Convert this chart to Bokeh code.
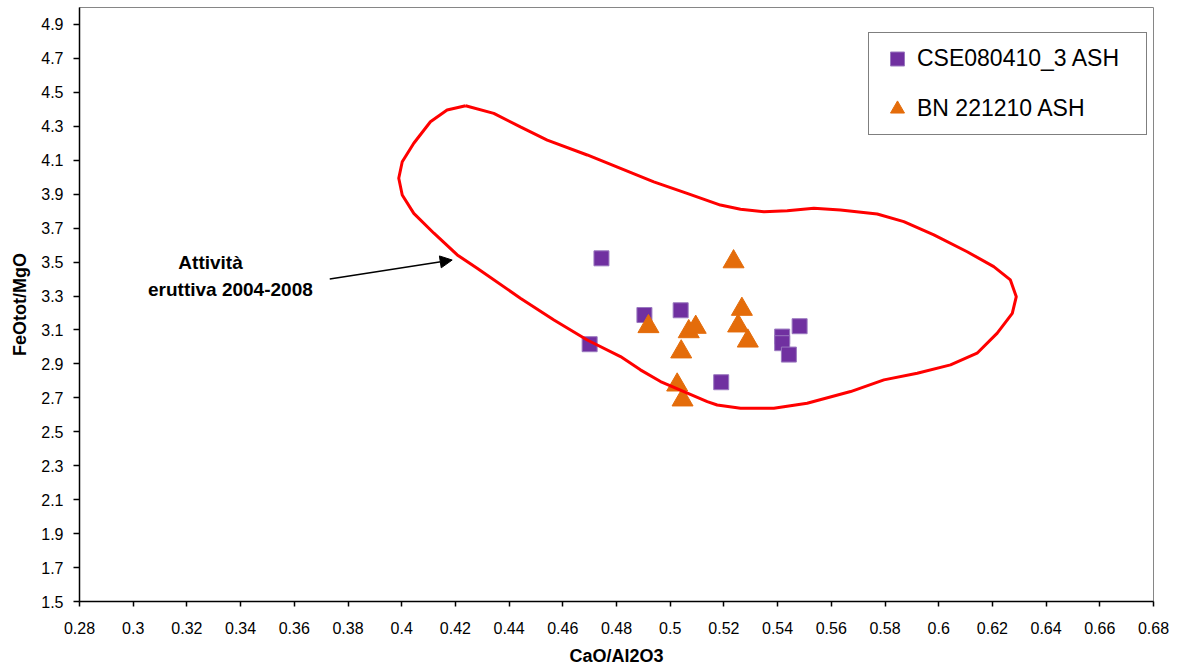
from bokeh.plotting import figure
from bokeh.models import (Range1d, FixedTicker, NumeralTickFormatter, Legend, LegendItem,
                          Arrow, NormalHead, Label)
from bokeh.embed import file_html
from bokeh.resources import INLINE

# ---- data ----
cse_x = [0.4744, 0.4904, 0.5039, 0.4700, 0.5190, 0.5417, 0.5417, 0.5442, 0.5482]
cse_y = [3.522, 3.188, 3.216, 3.016, 2.792, 3.061, 3.022, 2.955, 3.122]

bn_x = [0.5236, 0.5267, 0.5253, 0.5289, 0.4919, 0.5069, 0.5095, 0.5041, 0.5026, 0.5046]
bn_y = [3.502, 3.222, 3.124, 3.035, 3.120, 3.090, 3.116, 2.971, 2.776, 2.688]

field_x = [0.4238, 0.4343, 0.4442, 0.4542, 0.4691, 0.4815, 0.4939, 0.5063, 0.5187, 0.5262,
           0.5349, 0.5436, 0.5535, 0.5634, 0.5771, 0.5870, 0.5982, 0.6106, 0.6205, 0.6267,
           0.6289, 0.6274, 0.6218, 0.6143, 0.6044, 0.5920, 0.5796, 0.5672, 0.5510, 0.5386,
           0.5262, 0.5175, 0.5138, 0.5051, 0.4964, 0.4889, 0.4815, 0.4691, 0.4567, 0.4442,
           0.4281, 0.4207, 0.4120, 0.4045, 0.4002, 0.3989, 0.4002, 0.4045, 0.4107, 0.4169,
           0.4238]
field_y = [4.421, 4.376, 4.297, 4.219, 4.131, 4.052, 3.973, 3.905, 3.836, 3.811,
           3.797, 3.803, 3.817, 3.807, 3.783, 3.738, 3.660, 3.561, 3.473, 3.395,
           3.296, 3.198, 3.081, 2.963, 2.894, 2.845, 2.806, 2.737, 2.668, 2.639,
           2.639, 2.658, 2.678, 2.737, 2.796, 2.865, 2.943, 3.041, 3.159, 3.287,
           3.463, 3.542, 3.670, 3.787, 3.895, 3.994, 4.091, 4.200, 4.327, 4.396,
           4.421]

x_ticks = [0.28, 0.30, 0.32, 0.34, 0.36, 0.38, 0.40, 0.42, 0.44, 0.46, 0.48,
           0.50, 0.52, 0.54, 0.56, 0.58, 0.60, 0.62, 0.64, 0.66, 0.68]
y_ticks = [1.5, 1.7, 1.9, 2.1, 2.3, 2.5, 2.7, 2.9, 3.1, 3.3, 3.5, 3.7, 3.9,
           4.1, 4.3, 4.5, 4.7, 4.9]

note_lines = ["Attività", "eruttiva 2004-2008"]
note_x = [0.3288, 0.3362]
note_y = [3.495, 3.336]
arrow_start = (0.3732, 3.400)
arrow_end = (0.4188, 3.512)

FONT = "Liberation Sans"

p = figure(width=1173, height=670, output_backend="svg", toolbar_location=None,
           x_range=Range1d(0.28, 0.68), y_range=Range1d(1.5, 5.0),
           min_border_left=79, min_border_right=20, min_border_top=7, min_border_bottom=69)
p.background_fill_color = "white"
p.border_fill_color = "white"
p.outline_line_color = "#868686"
p.outline_line_width = 1
p.xgrid.visible = False
p.ygrid.visible = False

for ax in (p.xaxis[0], p.yaxis[0]):
    ax.axis_line_color = "black"
    ax.axis_line_width = 1.5
    ax.major_tick_line_color = "black"
    ax.major_tick_line_width = 1.5
    ax.major_tick_in = 0
    ax.minor_tick_line_color = None
    ax.major_label_text_font = FONT
    ax.major_label_text_font_size = "16px"
    ax.major_label_text_color = "black"
    ax.axis_label_text_font = FONT
    ax.axis_label_text_font_style = "bold"
    ax.axis_label_text_font_size = "18px"
    ax.axis_label_text_color = "black"

p.xaxis[0].ticker = FixedTicker(ticks=x_ticks)
p.xaxis[0].formatter = NumeralTickFormatter(format="0.[00]")
p.xaxis[0].major_tick_out = 5
p.xaxis[0].major_label_standoff = 15
p.xaxis[0].axis_label = "CaO/Al2O3"
p.xaxis[0].axis_label_standoff = 9

p.yaxis[0].ticker = FixedTicker(ticks=y_ticks)
p.yaxis[0].formatter = NumeralTickFormatter(format="0.0")
p.yaxis[0].major_tick_out = 6
p.yaxis[0].major_label_standoff = 10
p.yaxis[0].axis_label = "FeOtot/MgO"
p.yaxis[0].axis_label_standoff = 8

sq = p.scatter(cse_x, cse_y, marker="square", size=15, fill_color="#7030A0",
               line_color="#9a78bf", line_width=1)
tri = p.scatter(bn_x, bn_y, marker="triangle", size=21, fill_color="#E46C0A",
                line_color="#E46C0A", line_width=1)
p.line(field_x, field_y, line_color="#FF0000", line_width=3)

p.add_layout(Arrow(end=NormalHead(size=12, fill_color="black", line_color="black"),
                   x_start=arrow_start[0], y_start=arrow_start[1],
                   x_end=arrow_end[0], y_end=arrow_end[1],
                   line_color="black", line_width=1.5))

for t, xx, yy in zip(note_lines, note_x, note_y):
    p.add_layout(Label(x=xx, y=yy, text=t, text_align="center", text_baseline="middle",
                       text_font=FONT, text_font_style="bold", text_font_size="19px",
                       text_color="black"))

legend = Legend(items=[LegendItem(label="CSE080410_3 ASH", renderers=[sq]),
                       LegendItem(label="BN 221210 ASH", renderers=[tri])],
                location=(789, 466))
legend.border_line_color = "black"
legend.border_line_width = 1
legend.background_fill_color = "white"
legend.background_fill_alpha = 1
legend.padding = 8
legend.margin = 0
legend.spacing = 15
legend.glyph_width = 40
legend.glyph_height = 35
legend.label_height = 35
legend.label_standoff = 0
legend.label_width = 221
legend.label_text_font = FONT
legend.label_text_font_size = "23px"
legend.label_text_color = "black"
p.add_layout(legend)

open("out.html", "w").write(file_html(p, INLINE))
